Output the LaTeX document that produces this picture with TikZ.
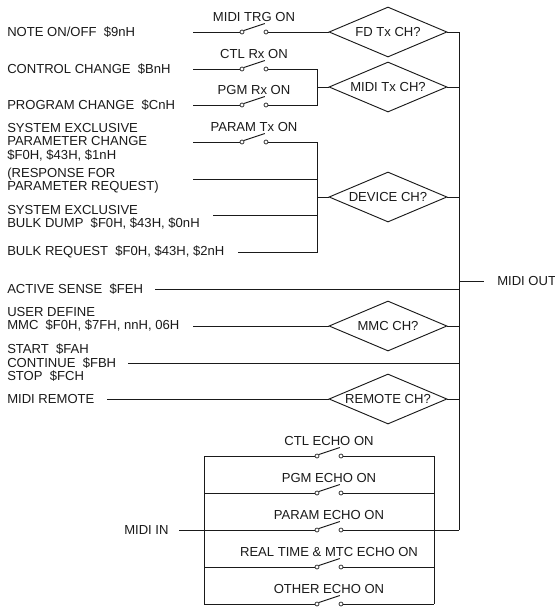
\documentclass[tikz,border=0pt]{standalone}
\usepackage{fontspec}
\setmainfont{Liberation Sans}
\usetikzlibrary{positioning,shapes.geometric}
\definecolor{Ink}{HTML}{1A1A1A}
\tikzset{
  wire/.style={draw=Ink, line width=0.7pt},
  msg/.style={anchor=west, align=left, inner sep=0pt, text=Ink, font=\fontsize{9.8}{10.1}\selectfont},
  swlabel/.style={inner sep=0pt, text=Ink, font=\fontsize{9.8}{10.1}\selectfont},
  chcheck/.style={
    diamond, draw=Ink, line width=0.7pt, aspect=2.36, inner sep=0pt,
    minimum width=88.5pt, minimum height=37.5pt, text=Ink,
    font=\fontsize{9.8}{10.1}\selectfont
  },
  contact/.style={circle, draw=Ink, line width=0.5pt, fill=white, inner sep=0pt, minimum size=3pt}
}
% #1 name, #2 left contact x, #3 y, #4 label
\newcommand{\swpair}[4]{
  \node[contact] (#1L) at (#2,#3) {};
  \node[contact,right=18pt of #1L.center,anchor=center] (#1R) {};
  \draw[wire] (#1L.40) -- ++(21,-7);
  \node[swlabel] (#1T) at ([xshift=9pt,yshift=11.25pt]#1L.center) {#4};
}
\begin{document}
\begin{tikzpicture}[x=0.75pt,y=-0.75pt]
  \useasboundingbox (0,0) rectangle (555,608);

  \node[chcheck] (fd) at (388,32) {FD Tx CH?};
  \node[chcheck] (midi) at (388,87) {MIDI Tx CH?};
  \node[chcheck] (device) at (388,197) {DEVICE CH?};
  \node[chcheck] (mmc) at (388,326) {MMC CH?};
  \node[chcheck] (remote) at (388,399) {REMOTE CH?};

  \node[msg] (note) at (7,32) {NOTE ON/OFF\ \ \$9nH};
  \node[msg] (ctl) at (7,69) {CONTROL CHANGE\ \ \$BnH};
  \node[msg] (pgm) at (7,105) {PROGRAM CHANGE\ \ \$CnH};
  \node[msg] (param) at (7,142) {SYSTEM EXCLUSIVE\\PARAMETER CHANGE\\\$F0H, \$43H, \$1nH};
  \node[msg] (resp) at (7,180.5) {(RESPONSE FOR\\PARAMETER REQUEST)};
  \node[msg] (dump) at (7,217.5) {SYSTEM EXCLUSIVE\\BULK DUMP\ \ \$F0H, \$43H, \$0nH};
  \node[msg] (bulk) at (7,252) {BULK REQUEST\ \ \$F0H, \$43H, \$2nH};
  \node[msg] (active) at (7,289) {ACTIVE SENSE\ \ \$FEH};
  \node[msg] (user) at (7,319.5) {USER DEFINE\\MMC\ \ \$F0H, \$7FH, nnH, 06H};
  \node[msg] (start) at (7,363) {START\ \ \$FAH\\CONTINUE\ \ \$FBH\\STOP\ \ \$FCH};
  \node[msg] (rem) at (7,399) {MIDI REMOTE};
  \node[msg] (out) at (497,281) {MIDI OUT};
  \node[msg] (in) at (124,530) {MIDI IN};

  \swpair{trg}{242}{32}{MIDI TRG ON}
  \swpair{crx}{242}{69}{CTL Rx ON}
  \swpair{prx}{242}{105}{PGM Rx ON}
  \swpair{ptx}{242}{142}{PARAM Tx ON}

  \coordinate (busT) at (459,32);
  \coordinate (busB) at (459,530);
  \coordinate (outE) at (484,281);
  \coordinate (outW) at (459,281);
  \coordinate (joinA) at (317,87);
  \coordinate (joinB) at (317,197);
  \coordinate (inE) at (179,530);

  \draw[wire] (193,32) -- (trgL);
  \draw[wire] (trgR) -- (fd);
  \draw[wire] (fd) -- (busT) -- (busB);
  \draw[wire] (outW) -- (outE);

  \draw[wire] (193,69) -- (crxL);
  \draw[wire] (193,105) -- (prxL);
  \draw[wire] (crxR) -| (joinA);
  \draw[wire] (prxR) -| (joinA);
  \draw[wire] (joinA) -- (midi);
  \draw[wire] (midi) -- (midi-|busT);

  \draw[wire] (193,142) -- (ptxL);
  \draw[wire] (ptxR) -| (joinB);
  \draw[wire] (193,179) -- (317,179);
  \draw[wire] (213,215) -- (317,215);
  \draw[wire] (238,252) -- (317,252) -- (joinB);
  \draw[wire] (joinB) -- (device);
  \draw[wire] (device) -- (device-|busT);

  \draw[wire] (155,289) -- (459,289);
  \draw[wire] (193,326) -- (mmc);
  \draw[wire] (mmc) -- (mmc-|busT);
  \draw[wire] (128,363) -- (459,363);
  \draw[wire] (107,399) -- (remote);
  \draw[wire] (remote) -- (remote-|busT);

  \foreach \nm/\lab/\yy in {ce/CTL ECHO ON/456,pe/PGM ECHO ON/493,pa/PARAM ECHO ON/530,
      rt/REAL TIME \& MTC ECHO ON/567,oe/OTHER ECHO ON/604}{
    \swpair{\nm}{317}{\yy}{\lab}
    \coordinate (\nm W) at (204,\yy);
    \coordinate (\nm E) at (434,\yy);
    \draw[wire] (\nm W) -- (\nm L);
    \draw[wire] (\nm R) -- (\nm E);
  }
  \draw[wire] (ceW) -- (oeW);
  \draw[wire] (ceE) -- (oeE);
  \draw[wire] (inE) -- (paW);
  \draw[wire] (paE) -- (busB);
\end{tikzpicture}
\end{document}
